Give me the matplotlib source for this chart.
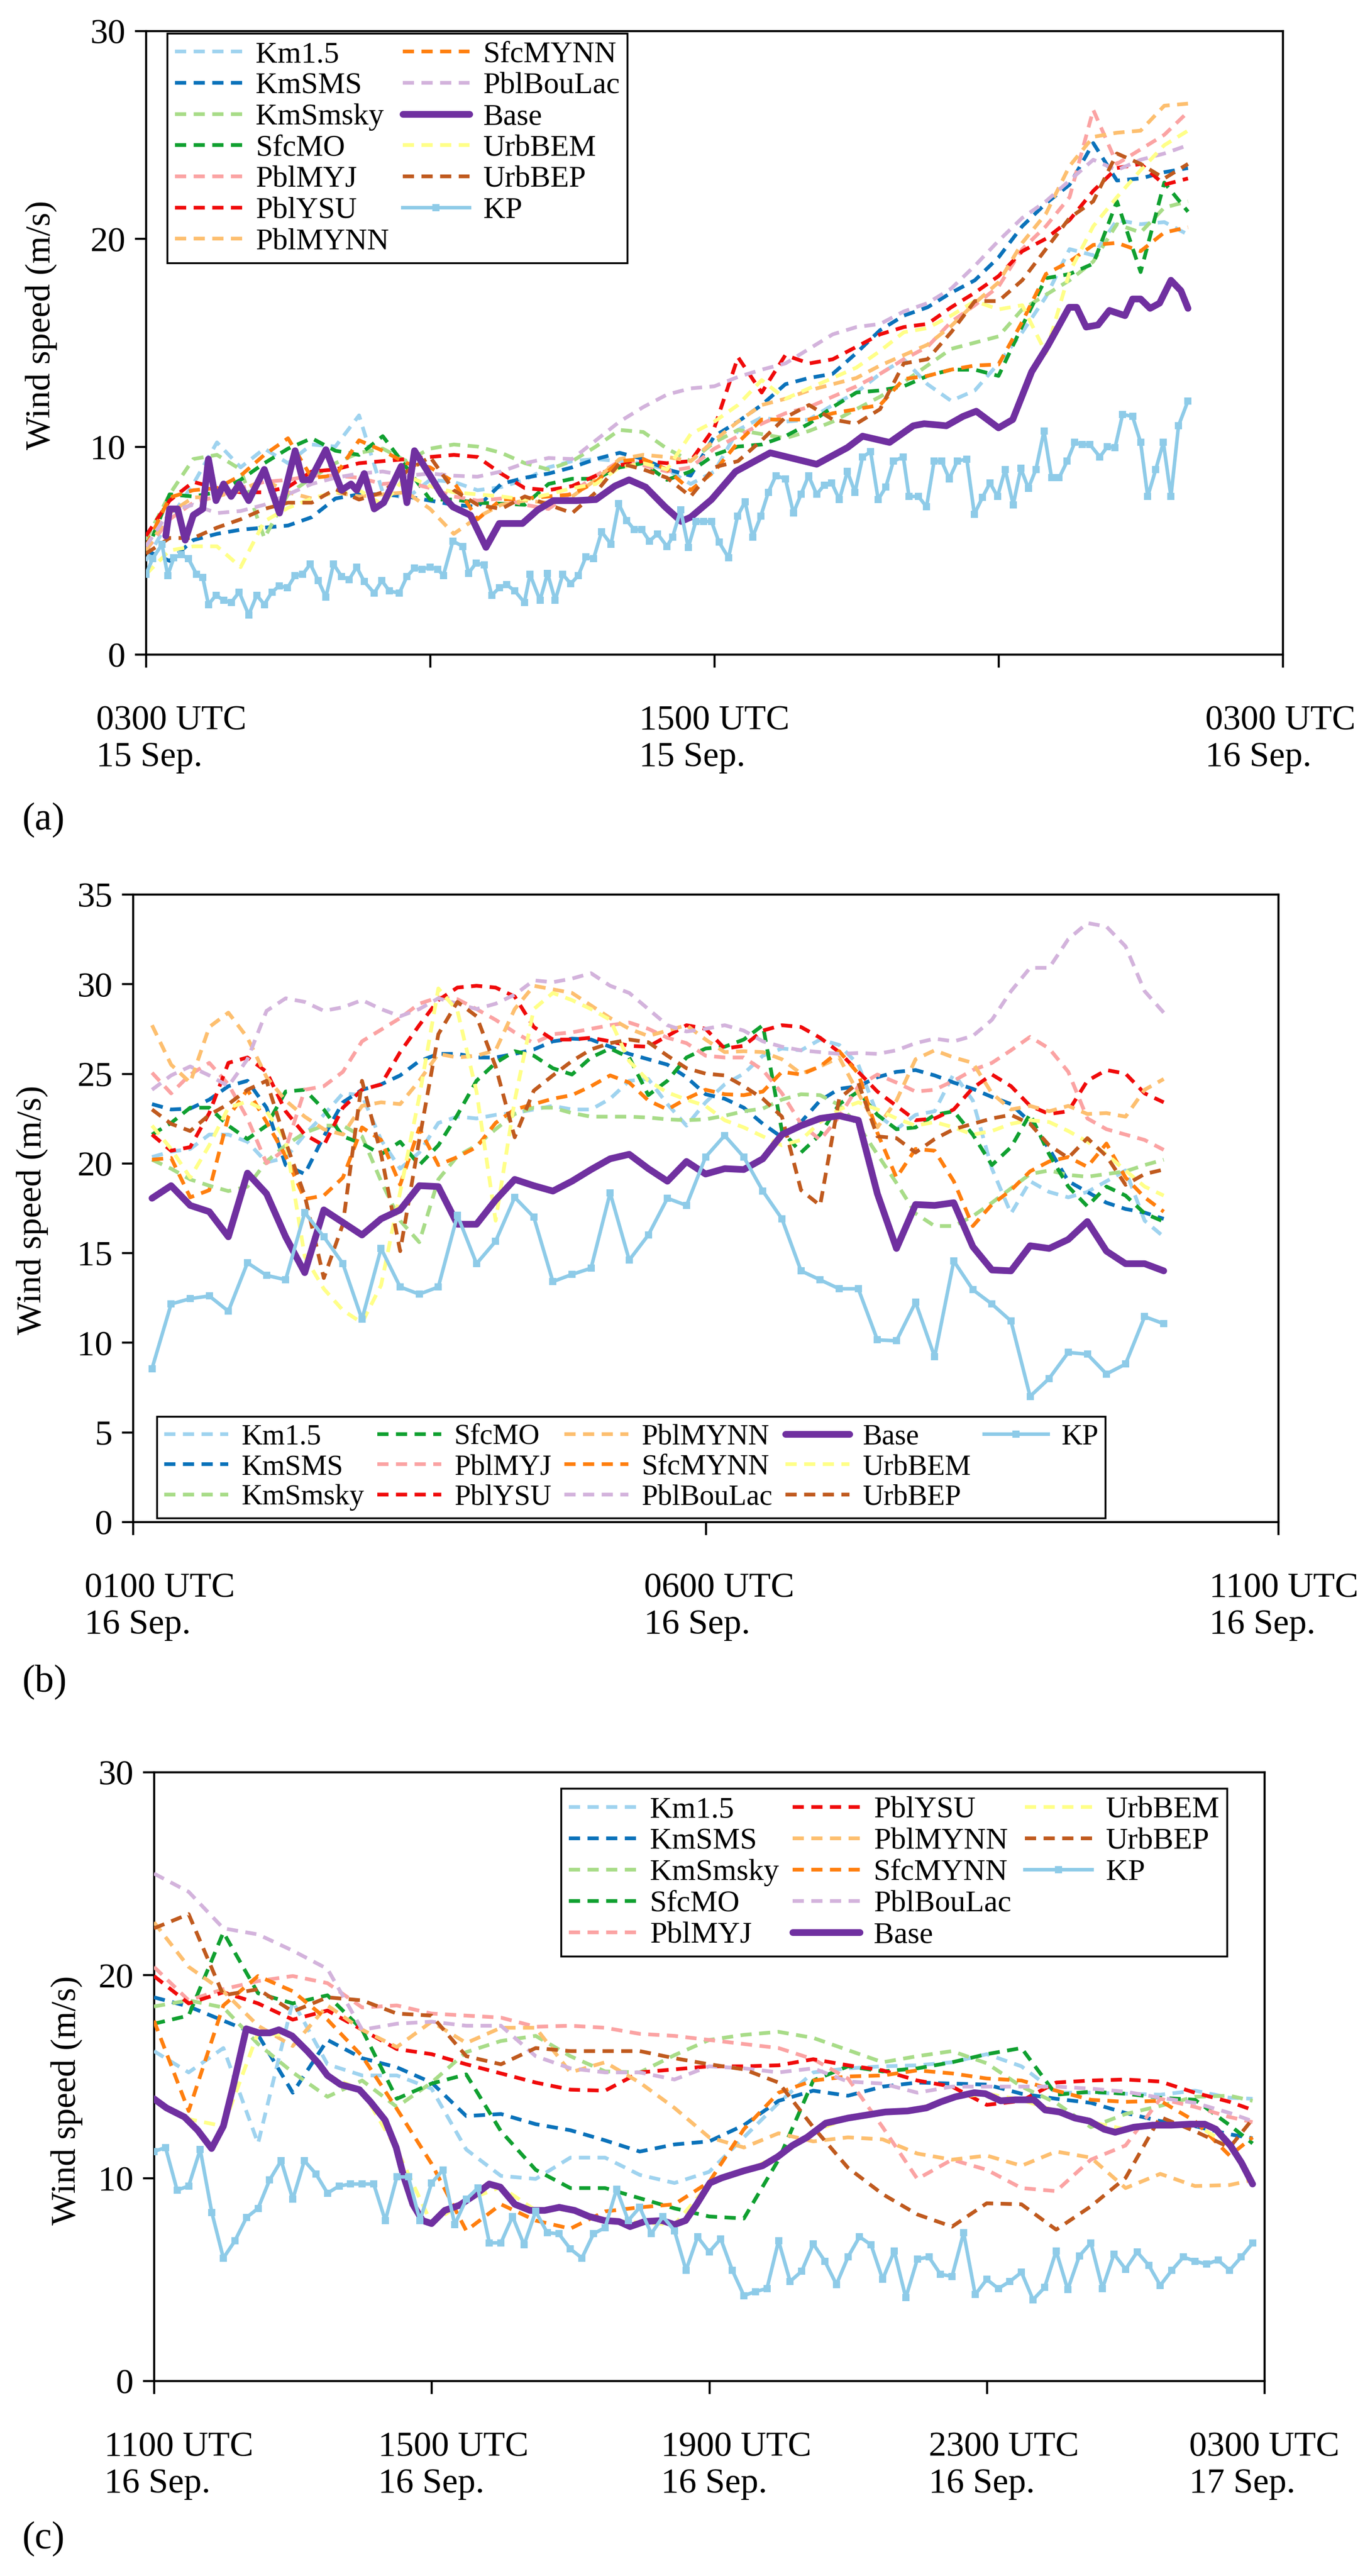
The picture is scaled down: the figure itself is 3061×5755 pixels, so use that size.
import numpy as np
import matplotlib
matplotlib.use('Agg')
import matplotlib.pyplot as plt
from matplotlib.transforms import ScaledTranslation
from matplotlib.lines import Line2D

plt.rcParams['font.family'] = ['Liberation Serif', 'DejaVu Serif']

# ---------------- series names / colours ----------------
SERIES = ['Km1.5', 'KmSMS', 'KmSmsky', 'SfcMO', 'PblMYJ', 'PblYSU', 'PblMYNN',
          'SfcMYNN', 'PblBouLac', 'Base', 'UrbBEM', 'UrbBEP', 'KP']
COLORS = {'Km1.5': '#9fd3ef', 'KmSMS': '#0a72ba', 'KmSmsky': '#a8dc88',
          'SfcMO': '#10a030', 'PblMYJ': '#fba3a3', 'PblYSU': '#f00a0a',
          'PblMYNN': '#fdbf6f', 'SfcMYNN': '#ff7f0e', 'PblBouLac': '#d3b3dc',
          'Base': '#7030a0', 'UrbBEM': '#ffff88', 'UrbBEP': '#c05a1e',
          'KP': '#8ecbe8'}

# ---------------- panel (a): hours after 0300 UTC 15 Sep ----------------
a_t_model = np.arange(0, 22.01, 0.5)
a_km15 = [4.5, 6.5, 8.2, 10.2, 9.0, 9.9, 9.2, 10.1, 10.0, 11.5, 7.8, 7.5, 8.4, 8.3, 7.9, 8.05, 8.4, 9.0, 9.3, 9.4, 9.3, 9.2, 8.9, 8.2, 8.8, 10.8, 11.4, 11.2, 11.3, 12.0, 12.6, 13.5, 14.2, 13.0, 12.2, 12.7, 14.0, 15.5, 17.2, 19.5, 19.2, 20.9, 20.7, 20.8, 20.2]
a_kmsms = [5.0, 4.5, 5.5, 5.8, 6.0, 6.1, 6.2, 6.6, 7.5, 7.7, 7.7, 7.6, 7.4, 7.2, 7.1, 8.2, 8.5, 8.7, 9.0, 9.4, 9.7, 9.4, 8.9, 8.6, 10.5, 11.2, 12.0, 13.0, 13.3, 13.5, 14.5, 15.6, 16.3, 16.7, 17.4, 18.0, 19.1, 20.6, 21.7, 22.6, 24.6, 22.8, 22.9, 23.2, 23.4]
a_kmsmsky = [5.5, 7.7, 9.4, 9.6, 8.9, 5.6, 7.7, 8.5, 9.2, 9.7, 9.9, 9.3, 9.9, 10.1, 10.0, 9.7, 9.2, 8.9, 9.3, 10.0, 10.8, 10.7, 9.9, 9.3, 10.2, 10.8, 10.6, 10.4, 10.75, 11.2, 11.8, 12.4, 13.1, 13.9, 14.7, 15.0, 15.3, 16.6, 17.3, 18.0, 18.9, 20.7, 20.3, 21.5, 21.8]
a_sfcmo = [4.85, 7.7, 7.6, 7.8, 8.4, 9.2, 9.9, 10.4, 9.8, 9.6, 10.5, 9.0, 7.45, 7.45, 7.3, 7.25, 7.2, 8.2, 8.45, 8.45, 9.0, 9.2, 8.4, 8.8, 9.6, 10.0, 10.1, 10.5, 11.1, 11.9, 12.6, 12.7, 12.9, 13.4, 13.7, 13.7, 13.4, 15.8, 18.1, 18.3, 18.8, 21.8, 18.4, 22.7, 21.3]
a_pblmyj = [5.0, 6.5, 7.3, 7.6, 8.0, 8.3, 8.4, 8.6, 8.6, 8.5, 8.2, 8.3, 8.0, 7.6, 7.4, 7.5, 7.2, 7.0, 7.8, 8.6, 9.3, 9.1, 8.8, 9.0, 9.9, 10.5, 11.1, 11.6, 11.9, 12.4, 12.9, 13.5, 14.2, 14.8, 16.0, 16.8, 17.7, 19.5, 20.6, 22.0, 26.2, 23.6, 24.3, 25.0, 26.1]
a_pblysu = [5.7, 7.4, 8.3, 8.0, 7.8, 7.8, 8.05, 8.8, 8.9, 9.2, 9.3, 9.4, 9.5, 9.6, 9.5, 8.7, 8.0, 7.9, 8.1, 8.6, 9.1, 9.3, 9.2, 9.3, 10.9, 14.3, 12.6, 14.4, 14.0, 14.2, 14.8, 15.4, 15.75, 15.9, 16.7, 17.4, 18.2, 19.4, 20.0, 20.9, 22.3, 23.4, 23.6, 22.6, 22.9]
a_pblmynn = [5.0, 6.8, 7.55, 7.6, 7.9, 8.4, 7.8, 7.5, 7.8, 7.6, 7.7, 7.8, 7.0, 5.8, 6.6, 7.2, 7.4, 7.3, 7.6, 8.4, 9.4, 9.6, 9.5, 9.3, 10.3, 11.2, 12.0, 12.3, 12.7, 13.0, 13.3, 13.9, 14.4, 14.9, 15.8, 16.9, 17.9, 19.8, 21.2, 23.5, 24.9, 25.1, 25.2, 26.4, 26.5]
a_sfcmynn = [5.2, 7.55, 7.9, 8.0, 8.6, 9.6, 10.4, 8.5, 8.6, 10.3, 9.8, 9.2, 9.0, 8.3, 6.5, 7.45, 7.5, 7.6, 7.7, 8.3, 9.3, 9.4, 8.9, 7.9, 8.8, 10.2, 11.3, 11.3, 11.3, 11.6, 11.8, 12.0, 13.25, 13.4, 13.7, 13.9, 13.95, 16.0, 18.3, 18.9, 19.7, 19.8, 19.4, 20.3, 20.55]
a_pblboulac = [5.2, 6.9, 7.2, 6.8, 6.9, 7.2, 7.7, 8.2, 8.5, 8.7, 8.8, 8.6, 8.7, 8.6, 8.55, 8.8, 9.2, 9.45, 9.4, 10.3, 11.2, 11.9, 12.5, 12.8, 12.9, 13.35, 13.7, 14.0, 14.7, 15.4, 15.75, 15.9, 16.5, 16.9, 17.6, 18.7, 19.9, 21.0, 21.8, 22.8, 23.8, 23.3, 23.8, 24.1, 24.5]
a_urbbem = [3.85, 5.0, 5.2, 5.2, 4.2, 6.4, 7.05, 7.5, 7.8, 7.9, 7.2, 8.6, 8.1, 7.8, 7.7, 7.6, 7.45, 7.7, 8.0, 8.2, 9.0, 9.2, 8.9, 10.6, 11.2, 12.0, 13.2, 12.3, 12.8, 13.3, 13.8, 14.6, 15.5, 15.7, 16.3, 17.0, 16.6, 16.8, 14.5, 18.4, 20.6, 22.0, 23.3, 24.5, 25.2]
a_urbbep = [4.85, 5.6, 5.6, 6.1, 6.5, 7.0, 7.3, 7.3, 7.95, 7.45, 7.8, 8.8, 9.5, 7.9, 7.2, 7.0, 7.6, 7.2, 6.8, 7.8, 9.2, 8.9, 8.5, 7.6, 9.0, 9.3, 10.3, 11.4, 12.0, 11.3, 11.1, 11.8, 14.0, 14.2, 15.5, 17.0, 17.0, 18.0, 19.5, 21.0, 21.8, 24.1, 23.6, 22.9, 23.6]
a_base_t = [0.42, 0.5, 0.67, 0.83, 1.0, 1.2, 1.32, 1.48, 1.64, 1.8, 1.97, 2.17, 2.5, 2.82, 3.15, 3.31, 3.47, 3.8, 4.13, 4.33, 4.45, 4.61, 4.82, 5.02, 5.39, 5.51, 5.67, 5.92, 6.24, 6.48, 6.85, 7.18, 7.46, 7.95, 8.27, 8.6, 9.09, 9.5, 9.9, 10.2, 10.55, 10.96, 11.3, 11.5, 11.94, 12.45, 13.18, 14.16, 14.81, 15.13, 15.7, 16.2, 16.43, 16.9, 17.25, 17.53, 18.0, 18.3, 18.7, 19.04, 19.49, 19.65, 19.85, 20.1, 20.34, 20.67, 20.83, 21.0, 21.2, 21.4, 21.64, 21.85, 22.0]
a_base = [5.7, 7.0, 7.0, 5.5, 6.7, 7.0, 9.4, 7.4, 8.2, 7.6, 8.2, 7.4, 8.9, 6.8, 9.8, 8.4, 8.4, 9.85, 7.9, 8.2, 7.9, 8.7, 7.0, 7.3, 9.05, 7.3, 9.8, 8.9, 7.7, 7.1, 6.7, 5.15, 6.3, 6.3, 6.95, 7.4, 7.4, 7.45, 8.1, 8.4, 8.05, 7.1, 6.4, 6.6, 7.45, 8.8, 9.7, 9.15, 9.95, 10.5, 10.2, 11.0, 11.1, 11.0, 11.45, 11.7, 10.9, 11.3, 13.6, 14.85, 16.7, 16.7, 15.75, 15.85, 16.55, 16.3, 17.1, 17.1, 16.65, 16.9, 18.0, 17.5, 16.65]
a_kp_t = [0.0, 0.14, 0.34, 0.46, 0.59, 0.75, 0.9, 1.07, 1.2, 1.32,
          1.48, 1.64, 1.8, 1.97, 2.17, 2.34, 2.5, 2.66, 2.82, 2.99,
          3.15, 3.31, 3.47, 3.64, 3.8, 3.96, 4.13, 4.29, 4.45, 4.61,
          4.82, 4.98, 5.14, 5.35, 5.51, 5.67, 5.83, 6.0, 6.16, 6.28,
          6.48, 6.69, 6.81, 6.97, 7.14, 7.3, 7.46, 7.62, 7.79, 7.99,
          8.11, 8.32, 8.48, 8.64, 8.8, 8.97, 9.13, 9.29, 9.45, 9.62,
          9.82, 9.98, 10.15, 10.31, 10.47, 10.63, 10.8, 11.0, 11.12, 11.29,
          11.45, 11.61, 11.77, 11.94, 12.1, 12.3, 12.49, 12.65, 12.81, 12.98,
          13.14, 13.3, 13.5, 13.67, 13.83, 13.99, 14.16, 14.32, 14.48, 14.64,
          14.81, 14.97, 15.13, 15.3, 15.46, 15.62, 15.78, 15.99, 16.11, 16.31,
          16.48, 16.64, 16.8, 16.96, 17.13, 17.33, 17.49, 17.66, 17.82, 17.98,
          18.14, 18.31, 18.47, 18.63, 18.79, 18.96, 19.12, 19.28, 19.45, 19.61,
          19.77, 19.93, 20.14, 20.3, 20.46, 20.62, 20.83, 21.0, 21.15, 21.32,
          21.48, 21.64, 21.8, 22.0]
a_kp = [3.85, 4.6, 5.3, 3.8, 4.65, 4.8, 4.6, 3.85, 3.7, 2.4,
        2.85, 2.6, 2.5, 3.0, 1.9, 2.85, 2.4, 3.0, 3.3, 3.2,
        3.8, 3.85, 4.35, 3.55, 2.75, 4.35, 3.75, 3.6, 4.2, 3.5,
        2.95, 3.55, 3.05, 2.95, 3.75, 4.15, 4.1, 4.2, 4.1, 3.8,
        5.45, 5.2, 3.9, 4.4, 4.3, 2.85, 3.2, 3.35, 3.05, 2.5,
        3.85, 2.6, 3.9, 2.6, 3.85, 3.4, 3.8, 4.7, 4.6, 5.9,
        5.3, 7.25, 6.45, 6.0, 6.0, 5.45, 5.8, 5.2, 5.65, 6.95,
        5.15, 6.4, 6.4, 6.4, 5.4, 4.65, 6.65, 7.35, 5.65, 6.65,
        7.8, 8.6, 8.45, 6.8, 7.7, 8.6, 7.7, 8.15, 8.25, 7.45,
        8.8, 7.8, 9.5, 9.75, 7.45, 8.05, 9.3, 9.5, 7.6, 7.6,
        7.1, 9.3, 9.3, 8.45, 9.3, 9.4, 6.75, 7.55, 8.25, 7.6,
        8.9, 7.2, 8.95, 8.0, 8.9, 10.75, 8.5, 8.5, 9.3, 10.2,
        10.1, 10.1, 9.5, 10.0, 9.95, 11.55, 11.45, 10.2, 7.6, 8.9,
        10.2, 7.6, 11.0, 12.2]

# ---------------- panel (b): hours after 0100 UTC 16 Sep ----------------
b_t = np.arange(1, 55) / 6.0
b_km15 = [20.35, 20.65, 20.8, 21.6, 21.6, 21.2, 20.05, 20.3, 21.6, 22.7, 23.9, 23.8, 21.3, 19.7, 20.6, 22.25, 22.6, 22.5, 22.7, 22.8, 23.0, 23.2, 23.0, 23.0, 23.6, 24.6, 24.7, 23.3, 22.1, 23.4, 24.4, 25.0, 26.0, 26.4, 26.3, 26.9, 26.6, 25.5, 22.7, 21.9, 22.7, 22.9, 25.0, 23.5, 19.7, 17.2, 19.0, 18.4, 18.1, 18.4, 19.0, 19.6, 16.8, 15.9]
b_kmsms = [23.3, 23.0, 23.05, 23.55, 24.3, 24.6, 23.1, 19.9, 19.4, 21.5, 23.4, 24.1, 24.4, 24.9, 25.7, 26.1, 26.1, 25.9, 25.9, 26.1, 26.35, 26.8, 26.95, 26.9, 26.5, 26.1, 25.8, 25.5, 24.8, 23.85, 23.6, 23.1, 22.2, 21.45, 22.3, 23.5, 24.15, 24.3, 24.8, 25.1, 25.2, 24.9, 24.5, 24.15, 23.7, 23.3, 22.3, 20.8, 19.0, 18.4, 17.8, 17.45, 17.25, 16.9]
b_kmsmsky = [20.2, 19.7, 19.1, 18.75, 18.45, 18.7, 20.1, 21.0, 21.7, 22.1, 22.1, 21.5, 19.0, 16.8, 15.6, 19.1, 20.4, 21.0, 21.9, 22.75, 23.1, 23.1, 22.8, 22.6, 22.6, 22.6, 22.55, 22.45, 22.4, 22.45, 22.65, 22.9, 23.05, 23.55, 23.85, 23.8, 23.25, 22.1, 20.5, 18.9, 17.2, 16.5, 16.5, 17.05, 17.8, 18.6, 19.4, 19.6, 19.35, 19.25, 19.4, 19.55, 19.9, 20.2]
b_sfcmo = [21.6, 22.25, 23.1, 23.1, 22.1, 21.35, 22.1, 24.0, 24.1, 23.0, 21.5, 21.1, 20.5, 21.2, 19.9, 21.0, 22.7, 24.6, 25.6, 26.25, 26.0, 25.3, 24.95, 25.9, 26.4, 25.9, 23.8, 24.6, 25.9, 26.4, 26.5, 26.9, 27.7, 21.8, 20.6, 21.6, 23.3, 24.0, 22.7, 21.9, 22.0, 22.7, 22.9, 21.6, 19.9, 20.9, 22.75, 20.5, 18.7, 17.6, 18.7, 18.2, 17.2, 16.75]
b_pblmyj = [25.05, 23.9, 24.95, 25.6, 24.4, 22.5, 20.0, 20.8, 24.1, 24.3, 25.1, 26.8, 27.45, 28.1, 28.9, 29.25, 29.15, 28.6, 28.0, 27.3, 26.7, 27.2, 27.3, 27.5, 27.7, 27.85, 27.5, 27.0, 26.7, 26.0, 25.9, 25.9, 25.2, 23.9, 22.2, 21.3, 22.6, 24.3, 24.95, 24.5, 24.0, 24.1, 24.6, 25.2, 25.6, 26.3, 27.05, 26.4, 25.1, 22.5, 21.9, 21.6, 21.3, 20.75]
b_pblysu = [21.6, 20.7, 20.9, 22.8, 25.6, 25.9, 25.1, 22.9, 21.6, 21.0, 23.1, 24.1, 24.4, 26.2, 27.7, 29.1, 29.8, 29.9, 29.8, 29.3, 27.6, 26.9, 26.9, 27.0, 26.8, 26.55, 26.5, 27.1, 27.7, 27.5, 26.4, 26.55, 27.4, 27.7, 27.6, 27.0, 26.2, 25.1, 24.0, 23.2, 22.4, 22.5, 23.0, 24.2, 24.95, 24.3, 23.2, 22.75, 22.9, 24.6, 25.2, 25.0, 23.9, 23.4]
b_pblmynn = [27.7, 25.5, 24.5, 27.6, 28.4, 27.0, 24.8, 23.5, 22.6, 21.9, 21.6, 23.2, 23.4, 23.3, 24.6, 26.1, 25.9, 26.0, 26.3, 28.6, 29.9, 29.7, 29.5, 28.8, 28.1, 27.5, 27.1, 27.4, 27.7, 26.9, 26.2, 26.25, 26.2, 25.8, 25.0, 25.4, 25.9, 23.9, 22.0, 23.5, 25.8, 26.3, 25.9, 25.6, 23.9, 23.0, 23.2, 22.9, 23.2, 22.75, 22.8, 22.6, 24.1, 24.7]
b_sfcmynn = [20.2, 20.3, 18.1, 18.5, 22.6, 24.1, 22.3, 20.4, 18.0, 18.2, 19.2, 22.0, 21.3, 18.8, 21.95, 19.9, 20.35, 20.9, 22.25, 23.0, 23.3, 23.6, 23.8, 24.3, 24.9, 24.5, 23.5, 23.0, 23.6, 24.1, 23.85, 23.8, 24.0, 25.1, 24.95, 25.4, 26.25, 25.0, 21.7, 19.2, 20.8, 20.7, 19.0, 16.5, 17.7, 18.5, 19.55, 20.1, 20.35, 19.8, 21.1, 19.2, 18.1, 17.3]
b_pblboulac = [24.1, 24.9, 25.4, 24.9, 24.3, 25.8, 28.5, 29.2, 29.0, 28.5, 28.7, 29.1, 28.6, 28.2, 28.6, 29.2, 28.9, 28.6, 28.9, 29.4, 30.2, 30.1, 30.3, 30.6, 29.9, 29.5, 28.6, 27.7, 27.35, 27.5, 27.7, 27.4, 26.8, 26.5, 26.3, 26.2, 26.1, 26.15, 26.1, 26.3, 26.7, 26.95, 26.8, 27.1, 28.0, 29.6, 30.9, 30.9, 32.5, 33.4, 33.2, 32.1, 29.6, 28.4]
b_urbbem = [22.1, 20.8, 19.2, 21.0, 23.1, 23.45, 22.9, 21.3, 14.8, 13.0, 11.8, 11.1, 13.2, 18.4, 23.7, 29.75, 28.5, 24.0, 16.8, 23.5, 28.6, 29.5, 29.1, 28.6, 28.0, 25.7, 24.6, 23.95, 23.55, 23.2, 22.4, 22.0, 21.5, 21.0, 21.3, 22.3, 23.0, 23.4, 23.0, 22.5, 22.1, 22.3, 22.0, 21.6, 21.8, 22.2, 22.4, 22.3, 21.8, 21.2, 20.5, 19.6, 18.7, 18.2]
b_urbbep = [23.0, 22.2, 21.8, 22.7, 23.3, 24.1, 24.6, 21.2, 18.2, 13.6, 16.6, 24.6, 20.5, 15.1, 21.3, 27.2, 29.0, 28.2, 25.4, 21.45, 24.05, 24.9, 25.7, 26.35, 26.7, 26.9, 26.75, 26.0, 25.3, 25.0, 24.9, 24.3, 23.6, 22.6, 18.5, 17.65, 23.6, 24.5, 21.5, 21.4, 20.6, 21.35, 21.9, 22.2, 22.5, 22.7, 22.2, 21.0, 20.3, 21.4, 20.4, 18.8, 19.4, 19.65]
b_base = [18.05, 18.75, 17.65, 17.3, 15.9, 19.45, 18.3, 15.9, 13.9, 17.4, 16.7, 16.0, 16.9, 17.4, 18.75, 18.7, 16.6, 16.6, 17.95, 19.1, 18.75, 18.45, 19.0, 19.65, 20.25, 20.5, 19.7, 19.0, 20.1, 19.4, 19.7, 19.65, 20.25, 21.6, 22.1, 22.5, 22.65, 22.4, 18.3, 15.25, 17.7, 17.65, 17.8, 15.35, 14.05, 14.0, 15.4, 15.25, 15.75, 16.75, 15.1, 14.4, 14.4, 14.0]
b_kp = [8.55, 12.15, 12.45, 12.6, 11.75, 14.45, 13.75, 13.5, 17.25, 15.9, 14.4, 11.3, 15.25, 13.1, 12.7, 13.1, 17.1, 14.4, 15.65, 18.1, 17.0, 13.4, 13.8, 14.15, 18.35, 14.6, 16.0, 18.05, 17.65, 20.35, 21.55, 20.35, 18.45, 16.9, 14.0, 13.5, 13.0, 13.0, 10.15, 10.1, 12.25, 9.2, 14.55, 12.95, 12.15, 11.2, 7.0, 8.0, 9.45, 9.35, 8.25, 8.8, 11.45, 11.05]

# ---------------- panel (c): hours after 1100 UTC 16 Sep ----------------
c_t_model = np.append(np.arange(0, 15.51, 0.5), 15.83)
c_km15 = [16.25, 15.2, 16.4, 11.7, 18.7, 15.6, 15.05, 15.05, 14.4, 11.4, 10.1, 9.95, 11.0, 11.0, 10.15, 9.75, 10.3, 12.0, 13.7, 15.2, 15.4, 15.5, 15.55, 15.7, 16.1, 15.5, 14.2, 14.2, 14.15, 14.1, 14.3, 13.95, 13.9]
c_kmsms = [18.9, 18.45, 17.75, 17.05, 14.2, 16.8, 15.9, 15.45, 14.7, 13.05, 13.15, 12.65, 12.35, 11.85, 11.3, 11.65, 11.8, 12.6, 13.8, 14.3, 14.05, 14.5, 14.7, 14.65, 14.6, 14.15, 13.9, 13.7, 13.2, 12.8, 12.55, 12.15, 11.95]
c_kmsmsky = [18.45, 18.75, 18.4, 16.6, 15.2, 14.0, 14.8, 13.5, 14.7, 16.2, 16.75, 17.0, 16.0, 15.25, 15.2, 16.05, 16.8, 17.05, 17.2, 16.9, 16.3, 15.7, 16.0, 16.25, 15.65, 14.5, 13.7, 12.5, 13.15, 13.55, 14.0, 14.05, 13.8]
c_sfcmo = [17.6, 18.0, 22.1, 19.1, 18.6, 19.0, 17.3, 13.9, 14.65, 15.1, 12.3, 10.4, 9.5, 9.5, 9.0, 8.5, 8.1, 8.0, 10.9, 14.8, 15.5, 15.25, 15.4, 15.7, 16.1, 16.4, 14.1, 14.25, 14.15, 13.95, 13.85, 12.6, 11.7]
c_pblmyj = [20.4, 18.75, 19.3, 19.7, 19.95, 19.6, 18.4, 18.5, 18.1, 18.0, 17.9, 17.45, 17.5, 17.4, 17.1, 17.0, 16.8, 16.6, 16.4, 15.85, 14.9, 12.5, 9.95, 10.9, 10.4, 9.5, 9.35, 10.9, 11.6, 13.9, 13.5, 13.0, 12.75]
c_pblysu = [19.95, 18.6, 19.15, 18.6, 17.8, 18.25, 17.3, 16.35, 16.1, 15.6, 15.15, 14.7, 14.35, 14.3, 15.2, 15.35, 15.5, 15.5, 15.55, 15.85, 15.55, 15.3, 14.8, 14.5, 13.6, 13.8, 14.7, 14.8, 14.85, 14.75, 14.2, 13.75, 13.35]
c_pblmynn = [22.6, 20.4, 19.2, 17.5, 16.5, 18.5, 17.3, 16.45, 17.7, 16.65, 17.4, 17.4, 15.2, 15.7, 14.7, 13.45, 12.0, 11.5, 12.2, 11.8, 12.0, 11.9, 11.2, 10.9, 11.1, 10.6, 11.3, 11.0, 9.5, 10.2, 9.6, 9.65, 9.9]
c_sfcmynn = [17.75, 13.3, 18.5, 19.95, 19.2, 17.8, 16.0, 13.4, 10.7, 7.4, 8.7, 7.9, 7.5, 8.35, 8.55, 8.7, 9.8, 12.4, 14.2, 14.8, 15.0, 15.05, 15.3, 15.15, 14.9, 14.8, 14.3, 13.85, 13.75, 13.8, 12.8, 11.1, 12.0]
c_pblboulac = [25.0, 24.1, 22.3, 22.0, 21.2, 20.3, 17.3, 17.6, 17.7, 17.5, 17.5, 16.0, 15.4, 15.2, 15.2, 14.85, 15.5, 15.4, 15.2, 15.4, 14.75, 14.65, 14.2, 14.5, 14.5, 14.5, 14.5, 14.4, 14.25, 13.95, 13.7, 13.2, 12.8]
c_urbbem = [13.9, 12.9, 12.55, 17.15, 17.0, 15.05, 14.3, 11.4, 7.75, 8.9, 9.55, 8.4, 8.45, 7.9, 7.8, 7.7, 9.7, 10.35, 11.05, 12.3, 12.95, 13.25, 13.4, 13.95, 14.15, 13.85, 13.3, 12.75, 12.4, 12.6, 12.65, 11.6, 9.7]
c_urbbep = [22.3, 23.0, 19.0, 19.3, 18.2, 18.9, 18.75, 18.1, 18.0, 16.0, 15.6, 16.4, 16.25, 16.25, 16.25, 15.9, 15.6, 15.35, 14.7, 12.5, 10.5, 9.2, 8.2, 7.6, 8.75, 8.7, 7.45, 8.6, 10.0, 13.0, 12.3, 11.5, 12.9]
c_base_t = [0.0, 0.18, 0.44, 0.63, 0.83, 1.0, 1.14, 1.33, 1.51, 1.67, 1.8, 1.99, 2.21, 2.37, 2.5, 2.69, 2.96, 3.12, 3.33, 3.49, 3.6, 3.73, 3.87, 4.0, 4.19, 4.4, 4.62, 4.83, 4.99, 5.2, 5.42, 5.63, 5.84, 6.06, 6.27, 6.49, 6.7, 6.86, 7.07, 7.32, 7.5, 7.66, 7.82, 8.01, 8.18, 8.5, 8.77, 8.99, 9.2, 9.41, 9.68, 10.0, 10.27, 10.54, 10.86, 11.13, 11.34, 11.55, 11.82, 11.98, 12.2, 12.41, 12.68, 12.84, 13.05, 13.27, 13.48, 13.69, 13.85, 14.12, 14.39, 14.66, 14.93, 15.14, 15.3, 15.51, 15.67, 15.83]
c_base = [13.9, 13.45, 13.0, 12.35, 11.45, 12.55, 14.5, 17.35, 17.15, 17.15, 17.3, 17.0, 16.25, 15.65, 15.05, 14.6, 14.35, 13.75, 12.85, 11.5, 10.05, 8.7, 7.9, 7.75, 8.4, 8.65, 9.15, 9.7, 9.55, 8.7, 8.4, 8.4, 8.55, 8.4, 8.1, 7.9, 7.85, 7.6, 7.85, 7.9, 7.7, 7.9, 8.7, 9.75, 10.0, 10.35, 10.6, 11.05, 11.6, 12.0, 12.7, 12.95, 13.1, 13.25, 13.3, 13.45, 13.75, 14.0, 14.2, 14.15, 13.8, 13.85, 13.85, 13.35, 13.25, 12.95, 12.8, 12.4, 12.25, 12.5, 12.6, 12.6, 12.65, 12.65, 12.4, 11.6, 10.75, 9.7]
c_kp_t = np.arange(0, 96) / 6.0
c_kp = [11.3, 11.5, 9.4, 9.6, 11.4, 8.3, 6.05, 6.9, 8.05, 8.5,
        9.9, 10.85, 8.95, 10.85, 10.2, 9.25, 9.6, 9.7, 9.7, 9.7,
        7.9, 10.05, 10.05, 7.9, 9.75, 10.4, 7.7, 8.95, 9.5, 6.8,
        6.8, 8.1, 6.7, 8.35, 7.3, 7.25, 6.5, 6.05, 7.25, 7.55,
        9.45, 7.9, 8.55, 7.25, 8.1, 7.4, 5.45, 7.1, 6.35, 7.0,
        5.45, 4.2, 4.4, 4.55, 6.9, 4.9, 5.4, 6.75, 5.9, 4.75,
        6.1, 7.1, 6.7, 5.0, 6.4, 4.1, 6.0, 6.1, 5.25, 5.15,
        7.3, 4.25, 5.0, 4.55, 4.9, 5.35, 4.0, 4.6, 6.4, 4.5,
        6.15, 6.8, 4.55, 6.25, 5.5, 6.35, 5.7, 4.7, 5.45, 6.1,
        5.9, 5.75, 5.95, 5.45, 6.1, 6.8]

# tick labels
a_ticks = [0, 6, 12, 18, 24]
a_ticklabels = ['0300 UTC\n15 Sep.', '', '1500 UTC\n15 Sep.', '', '0300 UTC\n16 Sep.']
b_ticks = [0, 5, 10]
b_ticklabels = ['0100 UTC\n16 Sep.', '0600 UTC\n16 Sep.', '1100 UTC\n16 Sep.']
c_ticks = [0, 4, 8, 12, 16]
c_ticklabels = ['1100 UTC\n16 Sep.', '1500 UTC\n16 Sep.', '1900 UTC\n16 Sep.',
                '2300 UTC\n16 Sep.', '0300 UTC\n17 Sep.']

# ---------------- figure ----------------
W, H, DPI = 3061, 5755, 300
fig = plt.figure(figsize=(W / DPI, H / DPI), dpi=DPI)
fig.patch.set_facecolor('white')
fig.canvas.draw()
renderer = fig.canvas.get_renderer()


def fit_fontsize(text, target_px, fs0=18.0):
    """font size so that the given text spans target_px pixels."""
    t = fig.text(0.5, 0.5, text, fontsize=fs0)
    w = t.get_window_extent(renderer).width
    t.remove()
    return fs0 * target_px / w


TICK_FS = fit_fontsize('0300 UTC', 336)
YLAB_FS = fit_fontsize('Wind speed (m/s)', 557)
LETTER_FS = fit_fontsize('(a)', 95)


def make_axes(px_left, px_top, px_right, px_bottom):
    return fig.add_axes([px_left / W, 1 - px_bottom / H,
                         (px_right - px_left) / W, (px_bottom - px_top) / H])


def draw_panel(ax, t_model, models, t_base, base, t_kp, kp):
    for name in SERIES:
        c = COLORS[name]
        if name == 'Base':
            ax.plot(t_base, base, color=c, lw=3.6, solid_capstyle='round',
                    solid_joinstyle='round', zorder=5, label=name)
        elif name == 'KP':
            ax.plot(t_kp, kp, color=c, lw=1.9, marker='s', ms=4.0,
                    markeredgewidth=0, zorder=6, label=name)
        else:
            ax.plot(t_model, models[name], color=c, lw=2.0, dashes=(3.0, 2.0),
                    dash_capstyle='butt', zorder=3, label=name)


def style_axes(ax, xmax, ymax, yticks, xticks, xlabels, xoffs, ylab_xy):
    ax.set_xlim(0, xmax)
    ax.set_ylim(0, ymax)
    ax.set_yticks(yticks)
    ax.set_xticks(xticks)
    ax.set_xticklabels(xlabels)
    for s in ax.spines.values():
        s.set_linewidth(1.1)
        s.set_color('black')
    ax.tick_params(axis='x', direction='out', length=7, width=1.1, pad=20,
                   labelsize=TICK_FS)
    ax.tick_params(axis='y', direction='out', length=6, width=1.1, pad=5,
                   labelsize=TICK_FS)
    for lab, dx in zip(ax.get_xticklabels(), xoffs):
        lab.set_multialignment('left')
        lab.set_transform(lab.get_transform() +
                          ScaledTranslation(dx / DPI, 0, fig.dpi_scale_trans))
    ax.set_ylabel('Wind speed (m/s)', fontsize=YLAB_FS)
    ax.yaxis.set_label_coords(*ylab_xy)


def build_legend(ax, n_blank, fs, **kw):
    handles, labels = ax.get_legend_handles_labels()
    for _ in range(n_blank):
        handles.append(Line2D([], [], linestyle='none'))
        labels.append('')
    leg = ax.legend(handles, labels, frameon=True, fancybox=False, framealpha=1,
                    edgecolor='black', handlelength=2.2, handletextpad=0.45,
                    columnspacing=0.45, labelspacing=0.12, borderpad=0.25,
                    borderaxespad=0, fontsize=fs, **kw)
    leg.get_frame().set_linewidth(1.0)
    return leg


def fitted_legend(ax, n_blank, target_w, **kw):
    fs = 16.0
    for _ in range(3):
        leg = build_legend(ax, n_blank, fs, **kw)
        w = leg.get_window_extent(renderer).width
        fs = fs * target_w / w
        leg.remove()
    return build_legend(ax, n_blank, fs, **kw)


# panel (a)
ax_a = make_axes(326, 69, 2866, 1462)
models_a = {'Km1.5': a_km15, 'KmSMS': a_kmsms, 'KmSmsky': a_kmsmsky, 'SfcMO': a_sfcmo,
            'PblMYJ': a_pblmyj, 'PblYSU': a_pblysu, 'PblMYNN': a_pblmynn,
            'SfcMYNN': a_sfcmynn, 'PblBouLac': a_pblboulac, 'UrbBEM': a_urbbem,
            'UrbBEP': a_urbbep}
draw_panel(ax_a, a_t_model, models_a, a_base_t, a_base, a_kp_t, a_kp)
style_axes(ax_a, 24, 30, [0, 10, 20, 30], a_ticks, a_ticklabels,
           [57, 0, 0, 0, -5], (-0.078, 0.528))
fitted_legend(ax_a, 0, 1027, loc='upper left', bbox_to_anchor=(0.019, 0.996), ncol=2)

# panel (b)
ax_b = make_axes(297, 1998, 2856, 3400)
models_b = {'Km1.5': b_km15, 'KmSMS': b_kmsms, 'KmSmsky': b_kmsmsky, 'SfcMO': b_sfcmo,
            'PblMYJ': b_pblmyj, 'PblYSU': b_pblysu, 'PblMYNN': b_pblmynn,
            'SfcMYNN': b_sfcmynn, 'PblBouLac': b_pblboulac, 'UrbBEM': b_urbbem,
            'UrbBEP': b_urbbep}
draw_panel(ax_b, b_t, models_b, b_t, b_base, b_t, b_kp)
style_axes(ax_b, 10, 35, [0, 5, 10, 15, 20, 25, 30, 35], b_ticks, b_ticklabels,
           [60, 30, 13], (-0.074, 0.497))
fitted_legend(ax_b, 2, 2118, loc='lower left', bbox_to_anchor=(0.021, 0.006), ncol=5)

# panel (c)
ax_c = make_axes(344, 3959, 2825, 5319)
models_c = {'Km1.5': c_km15, 'KmSMS': c_kmsms, 'KmSmsky': c_kmsmsky, 'SfcMO': c_sfcmo,
            'PblMYJ': c_pblmyj, 'PblYSU': c_pblysu, 'PblMYNN': c_pblmynn,
            'SfcMYNN': c_sfcmynn, 'PblBouLac': c_pblboulac, 'UrbBEM': c_urbbem,
            'UrbBEP': c_urbbep}
draw_panel(ax_c, c_t_model, models_c, c_base_t, c_base, c_kp_t, c_kp)
style_axes(ax_c, 16, 30, [0, 10, 20, 30], c_ticks, c_ticklabels,
           [56, 49, 60, 38, 0], (-0.064, 0.461))
fitted_legend(ax_c, 2, 1487, loc='upper right', bbox_to_anchor=(0.9666, 0.973), ncol=3)

# panel letters
for letter, ypx in [('(a)', 1832), ('(b)', 3758), ('(c)', 5672)]:
    fig.text(49 / W, 1 - ypx / H, letter, fontsize=LETTER_FS, ha='left', va='center')

fig.savefig('out.png', dpi=DPI, facecolor='white')
